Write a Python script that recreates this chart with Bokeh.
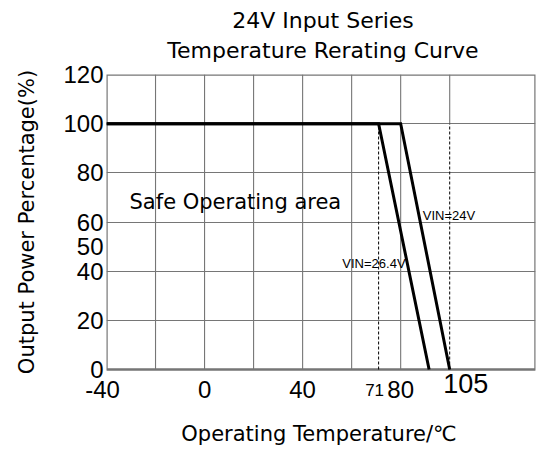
import numpy as np
from bokeh.plotting import figure
from bokeh.models import Range1d, FixedTicker, Label, LabelSet, ColumnDataSource
from bokeh.core.properties import value
from bokeh.embed import file_html
from bokeh.resources import INLINE

# ---------------- data ----------------
# schematic temperature axis: labelled temperatures and the grid slot each one sits on
axis_temps = [-40, 0, 40, 80, 105]
axis_slots = [-40, 0, 40, 80, 100]

x_tick_temps = [-40, 0, 40, 80]
x_tick_labels = ["-40", "0", "40", "80"]
x_mark_temps = [71, 105]          # dashed derating start / end markers
x_mark_labels = ["71", "105"]

y_ticks = [0, 20, 40, 50, 60, 80, 100, 120]
y_tick_labels = ["0", "20", "40", "50", "60", "80", "100", "120"]

grid_x_temps = [-20, 0, 20, 40, 60, 80]
grid_y = [20, 40, 60, 80, 100]

vin24_temp = [-40, 80, 105]
vin24_power = [100, 100, 0]
vin264_temp = [-40, 71, 94.5]
vin264_power = [100, 100, 0]

title_lines = ["24V Input Series", "Temperature Rerating Curve"]
x_title = "Operating Temperature/\u2103"
y_title = "Output Power Percentage(%)"


def xpos(t):
    return np.interp(np.asarray(t, dtype=float), axis_temps, axis_slots)


GRID = "#767676"
FONT = "DejaVu Sans"
NUMFONT = "Liberation Sans"

# layout (pixels): frame top, zero line and figure height; the frame runs to the bottom
FIG_W, FIG_H, TOP, ZERO = 536, 450, 74, 369
y_top = y_ticks[-1]
y_min = -y_top * (FIG_H - ZERO) / (ZERO - TOP)

x_range = Range1d(-40, 135)
y_range = Range1d(y_min, y_top)
p = figure(width=FIG_W, height=FIG_H, output_backend="svg", toolbar_location=None,
           x_range=x_range, y_range=y_range,
           min_border_left=106, min_border_right=1, min_border_top=TOP, min_border_bottom=0)
p.background_fill_color = "white"
p.border_fill_color = "white"
p.outline_line_color = None
p.xaxis.visible = False

# horizontal grid
p.xgrid.visible = False
p.ygrid.ticker = FixedTicker(ticks=grid_y)
p.ygrid.grid_line_color = GRID
p.ygrid.grid_line_width = 1.1

# y axis (tick labels)
yax = p.yaxis[0]
yax.ticker = FixedTicker(ticks=y_ticks)
yax.major_label_overrides = {v: l for v, l in zip(y_ticks, y_tick_labels)}
yax.bounds = (0, y_top)
yax.axis_line_color = None
yax.major_tick_line_color = None
yax.minor_tick_line_color = None
yax.major_tick_out = 0
yax.major_tick_in = 0
yax.major_label_text_font = NUMFONT
yax.major_label_text_font_size = "24px"
yax.major_label_text_color = "black"
yax.major_label_standoff = 3

# vertical grid lines and the frame border (plot area 0..120 %)
gx = xpos(grid_x_temps)
p.segment(x0=gx, y0=[0] * len(gx), x1=gx, y1=[y_top] * len(gx), line_color=GRID, line_width=1.1)
end_x = float(xpos(x_mark_temps[-1]))
p.segment(x0=[end_x], y0=[max(vin24_power)], x1=[end_x], y1=[y_top], line_color=GRID, line_width=1.1)
p.quad(left=[x_range.start], right=[x_range.end], bottom=[0], top=[y_top],
       fill_color=None, line_color=GRID, line_width=2.4)

# dashed markers
mx = xpos(x_mark_temps)
p.segment(x0=mx, y0=[0] * len(mx), x1=mx, y1=[max(vin24_power)] * len(mx),
          line_color="black", line_width=1, line_dash="3 2")

# derating curves
p.line(xpos(vin264_temp), vin264_power, line_color="black", line_width=3, line_join="miter")
p.line(xpos(vin24_temp), vin24_power, line_color="black", line_width=3, line_join="miter")

# x tick labels (the one on the frame edge goes to the left panel so it is not clipped)
tx = xpos(x_tick_temps)
inner = [i for i in range(len(tx)) if tx[i] > x_range.start]
edge = [i for i in range(len(tx)) if tx[i] <= x_range.start]
tick_src = ColumnDataSource(dict(x=[tx[i] for i in inner], y=[0] * len(inner),
                                 text=[x_tick_labels[i] for i in inner]))
p.add_layout(LabelSet(x="x", y="y", text="text", source=tick_src, text_font=value(NUMFONT),
                      text_font_size=value("24px"), text_align="center", text_baseline="middle",
                      y_offset=-20, text_color="black"))
for i in edge:
    p.add_layout(Label(x=float(tx[i]), y=0, text=x_tick_labels[i], text_font=NUMFONT,
                       text_font_size="24px", text_align="center", text_baseline="middle",
                       x_offset=-4, y_offset=-20, text_color="black"), "left")

p.add_layout(Label(x=float(mx[0]), y=0, text=x_mark_labels[0], text_font=NUMFONT, text_font_size="17px",
                   text_align="center", text_baseline="middle", x_offset=-4, y_offset=-20,
                   text_color="black"))
p.add_layout(Label(x=float(mx[1]), y=0, text=x_mark_labels[1], text_font=NUMFONT, text_font_size="27px",
                   text_align="center", text_baseline="middle", x_offset=16, y_offset=-14,
                   text_color="black"))
x_mid = (x_range.start + x_range.end) / 2
p.add_layout(Label(x=x_mid, y=0, text=x_title, text_font=FONT,
                   text_font_size="21px", text_align="center", text_baseline="middle",
                   x_offset=-2, y_offset=-64, text_color="black"))

# y title in the left panel
p.add_layout(Label(x=x_range.start, y=y_top / 2, text=y_title, text_font=FONT, text_font_size="21px",
                   angle=np.pi / 2, text_align="center", text_baseline="middle", x_offset=-80,
                   text_color="black"), "left")

# two-line title above the frame
for line, off in zip(title_lines, [54, 24]):
    p.add_layout(Label(x=x_mid, y=y_top, text=line, text_font=FONT, text_font_size="22px",
                       text_align="center", text_baseline="middle", x_offset=2, y_offset=off,
                       text_color="black"), "above")

# annotations
p.add_layout(Label(x=float(xpos(-30.6)), y=68.3, text="Safe Operating area", text_font=FONT,
                   text_font_size="21px", text_align="left", text_baseline="middle", text_color="black"))
p.add_layout(Label(x=float(xpos(91.3)), y=62.6, text="VIN=24V", text_font=NUMFONT,
                   text_font_size="13px", text_align="left", text_baseline="middle", text_color="black"))
p.add_layout(Label(x=float(xpos(82.5)), y=43.1, text="VIN=26.4V", text_font=NUMFONT,
                   text_font_size="13px", text_align="right", text_baseline="middle", text_color="black"))

open("out.html", "w").write(file_html(p, INLINE))
